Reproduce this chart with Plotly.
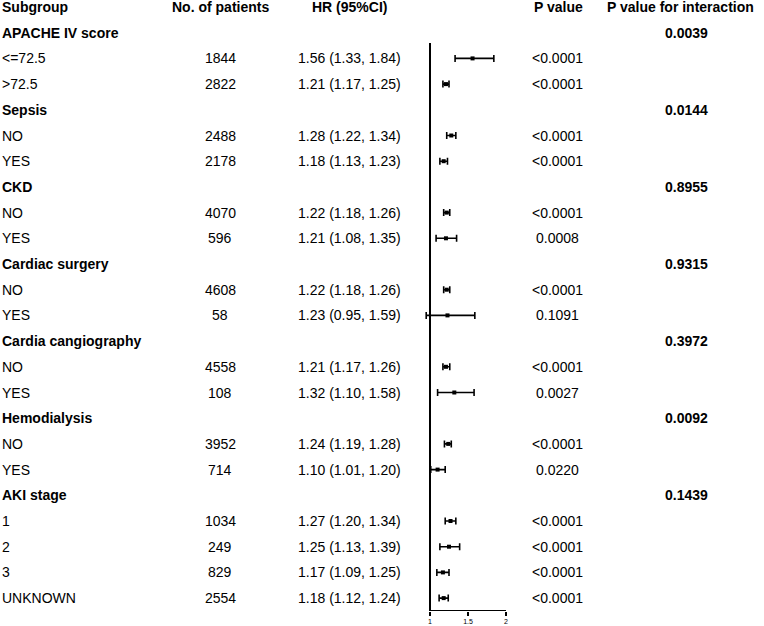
import plotly.graph_objects as go

# ---------------- data ----------------
subgroup_labels = ["APACHE IV score", "<=72.5", ">72.5",
                   "Sepsis", "NO", "YES",
                   "CKD", "NO", "YES",
                   "Cardiac surgery", "NO", "YES",
                   "Cardia cangiography", "NO", "YES",
                   "Hemodialysis", "NO", "YES",
                   "AKI stage", "1", "2", "3", "UNKNOWN"]
is_group = [True, False, False,
            True, False, False,
            True, False, False,
            True, False, False,
            True, False, False,
            True, False, False,
            True, False, False, False, False]
n_patients = [None, 1844, 2822,
              None, 2488, 2178,
              None, 4070, 596,
              None, 4608, 58,
              None, 4558, 108,
              None, 3952, 714,
              None, 1034, 249, 829, 2554]
hr = [None, 1.56, 1.21,
      None, 1.28, 1.18,
      None, 1.22, 1.21,
      None, 1.22, 1.23,
      None, 1.21, 1.32,
      None, 1.24, 1.10,
      None, 1.27, 1.25, 1.17, 1.18]
ci_low = [None, 1.33, 1.17,
          None, 1.22, 1.13,
          None, 1.18, 1.08,
          None, 1.18, 0.95,
          None, 1.17, 1.10,
          None, 1.19, 1.01,
          None, 1.20, 1.13, 1.09, 1.12]
ci_high = [None, 1.84, 1.25,
           None, 1.34, 1.23,
           None, 1.26, 1.35,
           None, 1.26, 1.59,
           None, 1.26, 1.58,
           None, 1.28, 1.20,
           None, 1.34, 1.39, 1.25, 1.24]
p_values = [None, "<0.0001", "<0.0001",
            None, "<0.0001", "<0.0001",
            None, "<0.0001", "0.0008",
            None, "<0.0001", "0.1091",
            None, "<0.0001", "0.0027",
            None, "<0.0001", "0.0220",
            None, "<0.0001", "<0.0001", "<0.0001", "<0.0001"]
p_interaction = ["0.0039", None, None,
                 "0.0144", None, None,
                 "0.8955", None, None,
                 "0.9315", None, None,
                 "0.3972", None, None,
                 "0.0092", None, None,
                 "0.1439", None, None, None, None]
headers = ["Subgroup", "No. of patients", "HR (95%CI)", "P value", "P value for interaction"]
x_ticks = [1, 1.5, 2]

# ---------------- layout constants ----------------
W, H = 764, 626
ROW = 25.7          # px per row
TOP = 7             # px centre of header row
AXIS_PX = 611       # px of x-axis line
X1_PX, X2_PX = 430, 506
FONT = "Arial, Liberation Sans, sans-serif"
FS = 14

rows = list(range(1, len(subgroup_labels) + 1))
y_bottom = (AXIS_PX - TOP) / ROW
y_top = -TOP / ROW
ppu = (X2_PX - X1_PX)
x_left = 1 - X1_PX / ppu
x_right = 1 + (W - X1_PX) / ppu

fig = go.Figure()

# forest points with CI
pr, ph, plo, phi = [], [], [], []
for r, h, lo, hi in zip(rows, hr, ci_low, ci_high):
    if h is not None:
        pr.append(r); ph.append(h); plo.append(h - lo); phi.append(hi - h)
fig.add_trace(go.Scatter(
    x=ph, y=pr, mode="markers",
    marker=dict(symbol="square", size=4, color="black"),
    error_x=dict(type="data", symmetric=False, array=phi, arrayminus=plo,
                 color="black", thickness=1.6, width=3.5),
    showlegend=False, hoverinfo="skip", cliponaxis=False))

# bottom axis line from 1 to 2
fig.add_trace(go.Scatter(x=[x_ticks[0], x_ticks[-1]], y=[y_bottom, y_bottom], mode="lines",
                         line=dict(color="black", width=2), showlegend=False,
                         hoverinfo="skip", cliponaxis=False))

# reference line at HR = 1
fig.add_shape(type="line", xref="x", yref="y", x0=1, x1=1, y0=1.4, y1=y_bottom,
              line=dict(color="black", width=2))

ann = []
def add(text, xpx, y, anchor="center", bold=False):
    ann.append(dict(text=f"<b>{text}</b>" if bold else text, x=xpx / W, xref="paper",
                    y=y, yref="y", xanchor=anchor, yanchor="middle", showarrow=False,
                    font=dict(family=FONT, size=FS, color="black")))

# headers
add(headers[0], 0, 0, "left", True)
add(headers[1], 220, 0, "center", True)
add(headers[2], 349, 0, "center", True)
add(headers[3], 558, 0, "center", True)
add(headers[4], 680, 0, "center", True)

for r, lab, g, n, h, lo, hi, p, pi in zip(rows, subgroup_labels, is_group, n_patients,
                                          hr, ci_low, ci_high, p_values, p_interaction):
    add(lab, 0, r, "left", g)
    if n is not None:
        add(str(n), 220, r)
    if h is not None:
        add(f"{h:.2f} ({lo:.2f}, {hi:.2f})", 349, r)
    if p is not None:
        add(p, 557, r)
    if pi is not None:
        add(pi, 686, r, "center", True)

fig.update_layout(
    width=W, height=H, margin=dict(l=0, r=0, t=0, b=0),
    paper_bgcolor="white", plot_bgcolor="white",
    annotations=ann,
    xaxis=dict(range=[x_left, x_right], domain=[0, 1], showgrid=False, zeroline=False,
               showline=False, tickvals=x_ticks, ticktext=["1", "1.5", "2"],
               ticks="outside", ticklen=4, tickwidth=1.5, tickcolor="black",
               tickfont=dict(family=FONT, size=7, color="black"), fixedrange=True),
    yaxis=dict(range=[y_bottom, y_top], domain=[(H - AXIS_PX) / H, 1], visible=False,
               showgrid=False, zeroline=False, fixedrange=True),
    font=dict(family=FONT, size=FS, color="black"),
)

fig.write_html("out.html", config={"displayModeBar": False},
               post_script="document.body.style.margin='0';document.body.style.overflow='hidden';")
